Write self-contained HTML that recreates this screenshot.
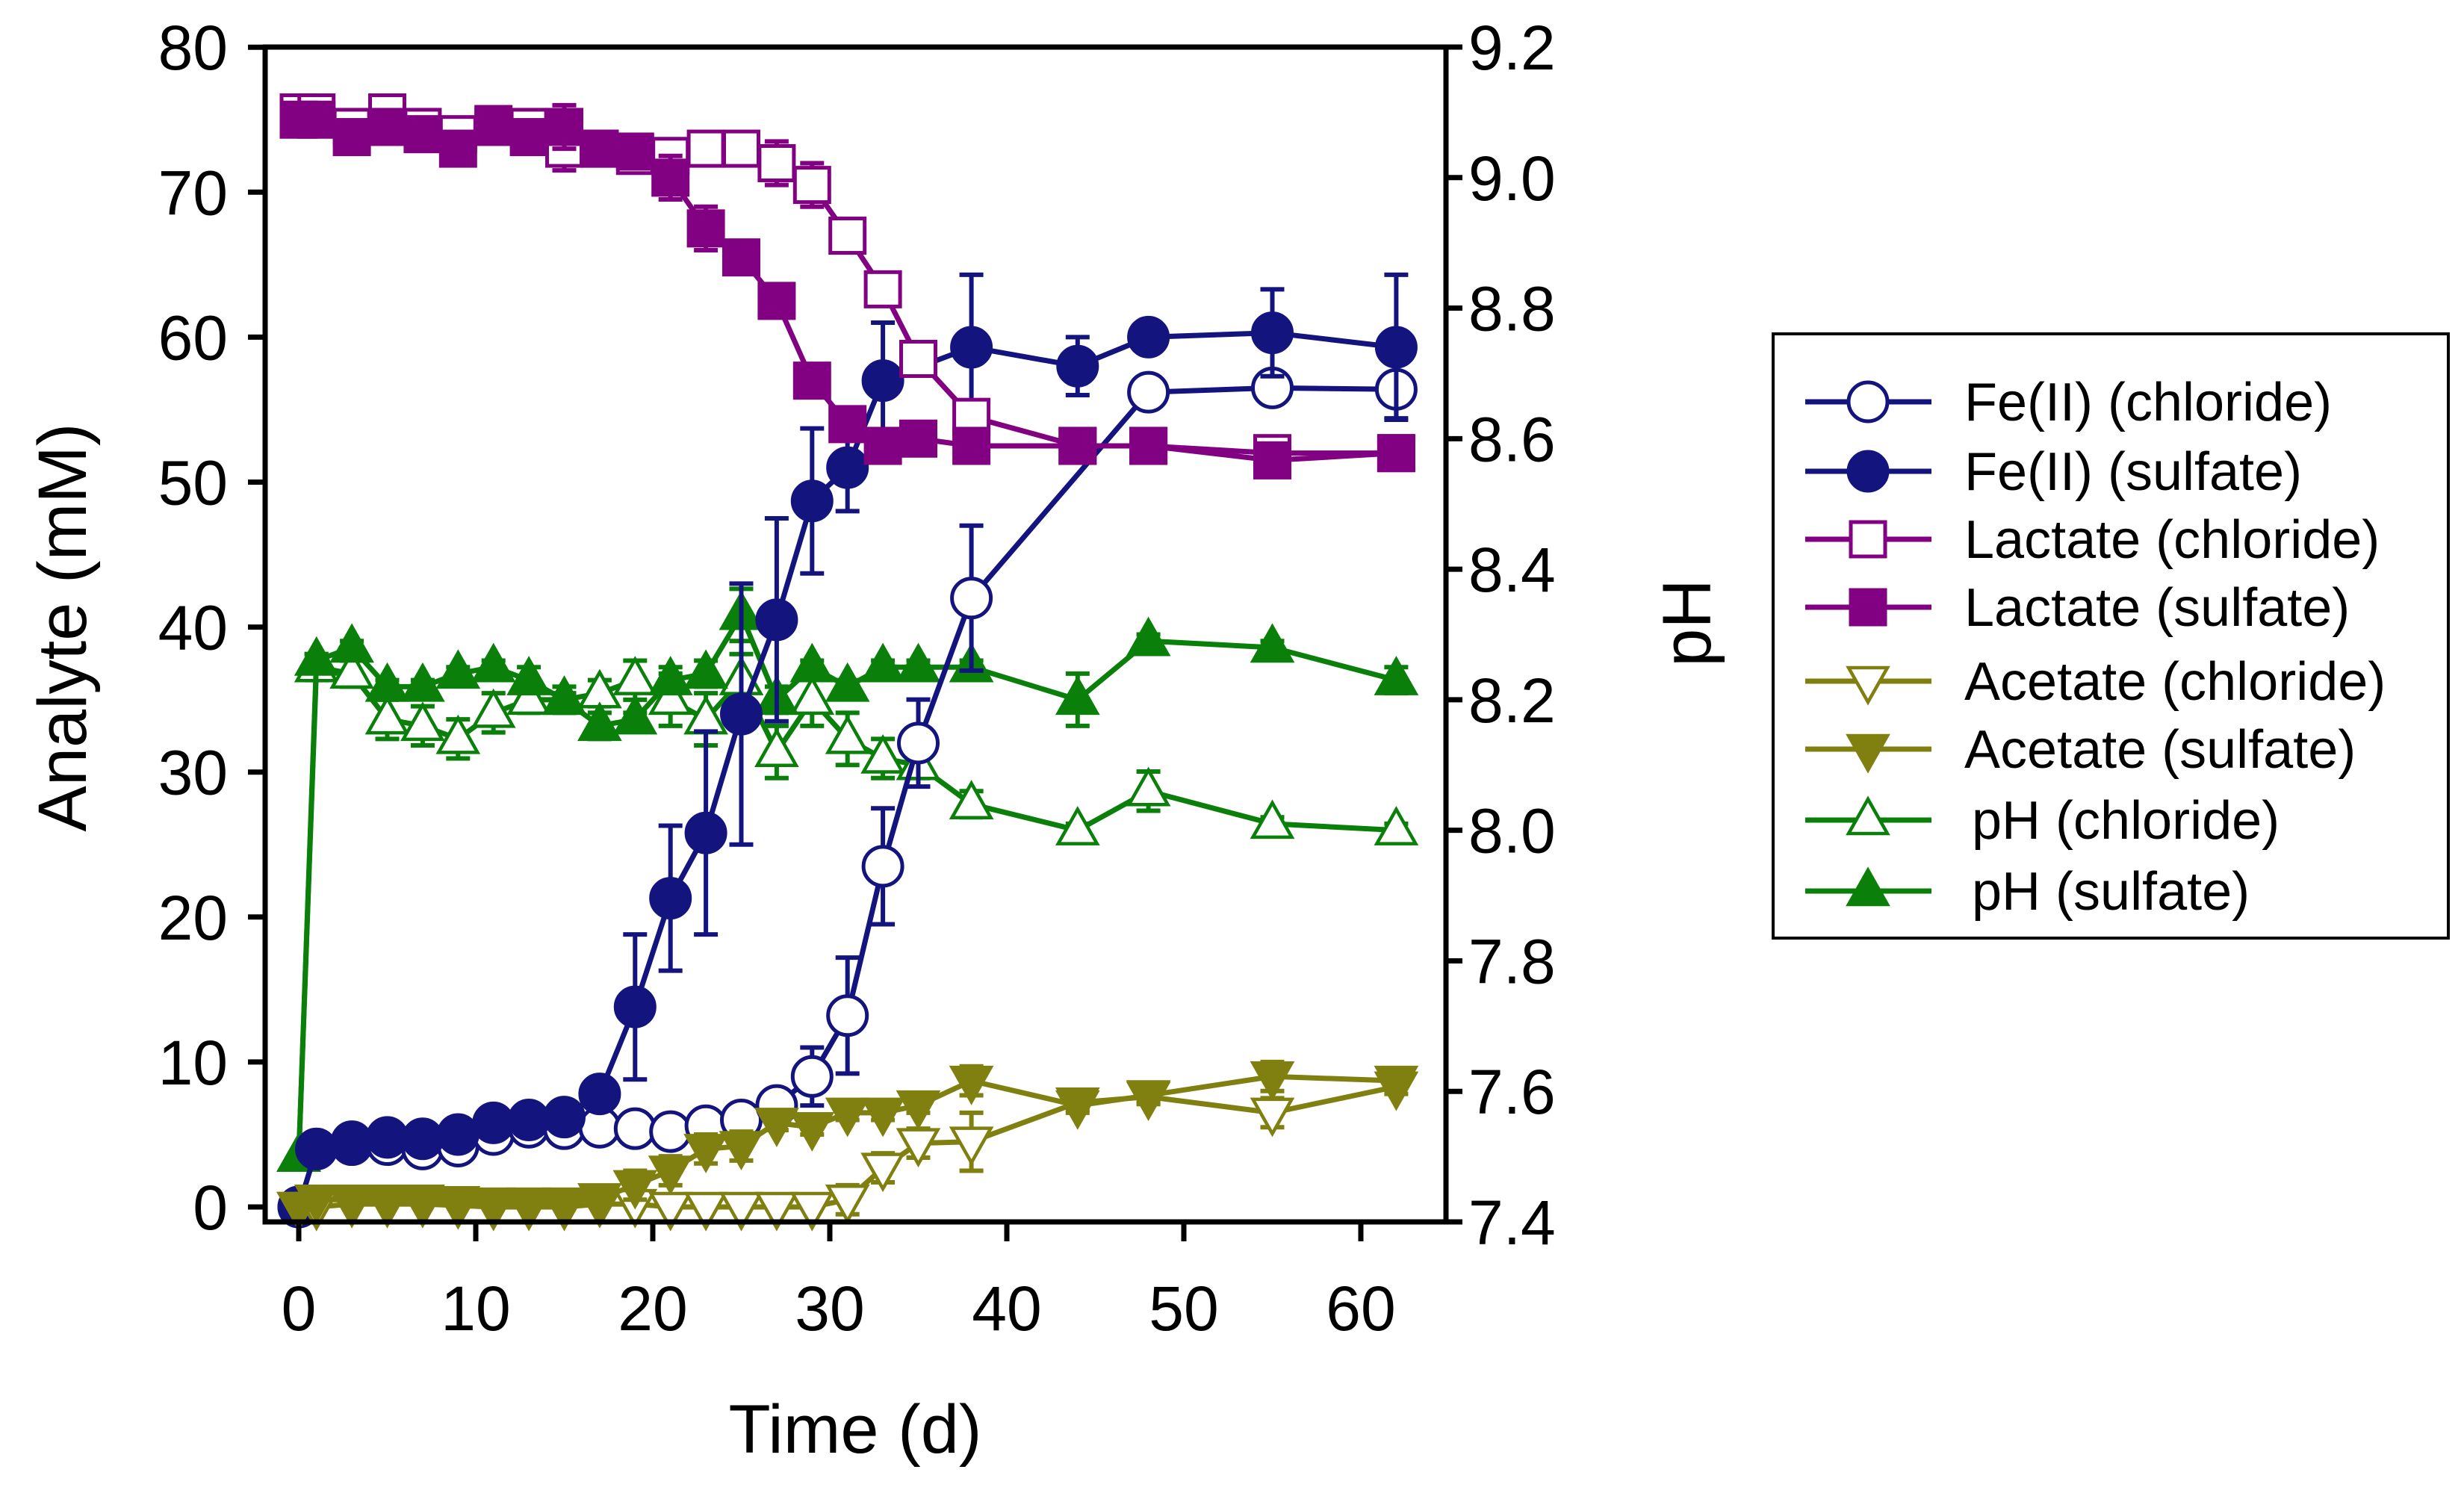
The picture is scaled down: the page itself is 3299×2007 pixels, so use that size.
<!DOCTYPE html>
<html><head><meta charset="utf-8"><style>
html,body{margin:0;padding:0;background:#fff;}
svg{display:block;font-family:"Liberation Sans",sans-serif;}
</style></head><body>
<svg id="chart" width="3299" height="2007" viewBox="0 0 3299 2007" xmlns="http://www.w3.org/2000/svg">
<g id="marks"></g>
<g id="axes"></g>
<g id="legend"></g>
</svg>
<script>
const tS=[0,1,3,5,7,9,11,13,15,17,19,21,23,25,27,29,31,33,35,38,44,48,55,62];
const tFeC=[0,1,3,5,7,9,11,13,15,17,19,21,23,25,27,29,31,33,35,38,48,55,62];
const feChl=[0,4,4.3,4.3,4,4.2,5,5.5,5.4,5.5,5.4,5.2,5.6,6,7,9,13.2,23.5,32,42,56.2,56.5,56.4];
const feChlErr=[0,0,0,0,0,0,0,0,0,0,0,0,0,0,0,2,4,4,3,5,1,1,2];
const tFeS=[0,1,3,5,7,9,11,13,15,17,19,21,23,25,27,29,31,33,38,44,48,55,62];
const feSul=[0,4,4.5,4.8,4.7,5,5.8,6,6.2,7.8,13.8,21.3,25.8,34,40.5,48.7,51,57,59.3,58,60,60.3,59.3];
const feSulErr=[0,0,0,0,0,0,0,0,0,0,5,5,7,9,7,5,3,4,5,2,1,3,5];
const lacChl=[75.5,75.5,74.5,75.5,74.5,74,74.5,74.5,73,73,72.5,72.5,73,73,72,70.5,67,63.3,58.5,54.5,52.5,52.5,52,52];
const lacChlErr=[1,1,1,1,1,1,1,1,1.5,1,1,1,1,1,1.5,1.5,1,1,1,1,1,1,1,1];
const lacSul=[75,75,73.8,74.5,74,73,74.7,73.8,74.5,73,72.8,71,67.5,65.5,62.5,57,54,52.5,53,52.5,52.5,52.5,51.5,52];
const lacSulErr=[1,1,1,1,1,1,1,1,1.5,1,1,1.5,1.5,1,1,1,1,1,1,1,1,1,1,1];
const aceChl=[0,0,0.2,0.2,0.2,0.1,0,0,0,0.2,0.2,0,0,0,0,0,0.5,2.7,4.4,4.5,7.2,7.6,6.5,8.3];
const aceChlErr=[0,0,0,0,0,0,0,0,0,0,0,0,0,0,0,0,1,1,1,2,0.5,0.5,1,0.5];
const aceSul=[0,0.5,0.5,0.5,0.5,0.4,0.3,0.3,0.3,0.6,1.5,2.5,4,4.2,5.8,5.5,6.5,6.5,7,8.7,7,7.7,9,8.7];
const aceSulErr=[0,0,0,0,0,0,0,0,0,0,1,1,1,1,0.5,0.5,0.5,0.5,0.5,1,0.5,0.5,1,0.5];
const phChl=[7.5,8.25,8.24,8.17,8.16,8.14,8.18,8.2,8.2,8.21,8.23,8.2,8.17,8.23,8.12,8.2,8.14,8.11,8.1,8.04,8.0,8.06,8.01,8.0];
const phChlErr=[0,0.02,0.02,0.03,0.03,0.03,0.03,0.02,0.02,0.02,0.03,0.04,0.04,0.04,0.04,0.04,0.04,0.03,0.02,0.02,0.01,0.03,0.01,0.01];
const phSul=[7.5,8.26,8.28,8.22,8.22,8.24,8.25,8.23,8.2,8.16,8.17,8.23,8.24,8.33,8.2,8.25,8.22,8.25,8.25,8.25,8.2,8.29,8.28,8.23];
const phSulErr=[0,0.01,0.01,0.01,0.01,0.01,0.01,0.02,0.01,0.02,0.01,0.02,0.02,0.04,0.02,0.01,0.01,0.01,0.01,0.01,0.04,0.01,0.01,0.02];
const xTicks=[0,10,20,30,40,50,60];
const yTicks=[0,10,20,30,40,50,60,70,80];
const pHTicks=["7.4","7.6","7.8","8.0","8.2","8.4","8.6","8.8","9.0","9.2"];

const NS="http://www.w3.org/2000/svg";
const X=v=>400+v*23.7;
const Y=v=>1616-v*19.41;
const YP=v=>1636-(v-7.4)*(1573/1.8);
const marks=document.getElementById('marks'),axes=document.getElementById('axes'),leg=document.getElementById('legend');
function el(tag,attrs,parent){const e=document.createElementNS(NS,tag);for(const k in attrs)e.setAttribute(k,attrs[k]);parent.appendChild(e);return e;}
function marker(shape,cx,cy,color,filled,parent){
  const fill=filled?color:'#fff';let e;
  if(shape==='circle')e=el('circle',{cx:cx,cy:cy,r:26,fill:fill,stroke:color,'stroke-width':5},parent);
  else if(shape==='square')e=el('rect',{x:cx-23,y:cy-23,width:46,height:46,fill:fill,stroke:color,'stroke-width':5},parent);
  else if(shape==='tri')e=el('polygon',{points:`${cx},${cy-28} ${cx-26},${cy+18} ${cx+26},${cy+18}`,fill:fill,stroke:color,'stroke-width':4.5},parent);
  else e=el('polygon',{points:`${cx},${cy+28} ${cx-26},${cy-18} ${cx+26},${cy-18}`,fill:fill,stroke:color,'stroke-width':4.5},parent);
  return e;
}
function series(name,ts,vals,errs,yf,color,shape,filled){
  const g=el('g',{},marks);
  
  
  const pts=ts.map((t,i)=>X(t)+','+yf(vals[i])).join(' ');
  const line=el('polyline',{points:pts,fill:'none',stroke:color,'stroke-width':7},g);
  
  
  ts.forEach((t,i)=>{
    const e=errs[i];
    if(e>0){const x=X(t),y1=yf(vals[i]+e),y2=yf(vals[i]-e);
      const eb=el('path',{d:`M${x},${y1}V${y2}M${x-16},${y1}H${x+16}M${x-16},${y2}H${x+16}`,stroke:color,'stroke-width':6,fill:'none'},g);
      
      }
  });
  ts.forEach((t,i)=>{
    const m=marker(shape,X(t),yf(vals[i]),color,filled,g);
    
    
  });
}
const NAVY='#14147f',PUR='#820082',OLI='#808010',GRN='#0a800a';
series('ph-chloride',tS,phChl,phChlErr,YP,GRN,'tri',false);
series('ph-sulfate',tS,phSul,phSulErr,YP,GRN,'tri',true);
series('fe-chloride',tFeC,feChl,feChlErr,Y,NAVY,'circle',false);
series('fe-sulfate',tFeS,feSul,feSulErr,Y,NAVY,'circle',true);
series('lactate-chloride',tS,lacChl,lacChlErr,Y,PUR,'square',false);
series('lactate-sulfate',tS,lacSul,lacSulErr,Y,PUR,'square',true);
series('acetate-chloride',tS,aceChl,aceChlErr,Y,OLI,'dtri',false);
series('acetate-sulfate',tS,aceSul,aceSulErr,Y,OLI,'dtri',true);

let f=el('path',{d:'M355,63H1936V1636H355Z',fill:'none',stroke:'#000','stroke-width':7},axes);

yTicks.forEach(v=>{
  el('path',{d:`M332,${Y(v)}H355`,stroke:'#000','stroke-width':7},axes);
  const t=el('text',{x:305,y:Y(v)+30,'font-size':84,'text-anchor':'end'},axes);t.textContent=v;
  
});
xTicks.forEach(v=>{
  el('path',{d:`M${X(v)},1636V1662`,stroke:'#000','stroke-width':7},axes);
  const t=el('text',{x:X(v),y:1781,'font-size':84,'text-anchor':'middle'},axes);t.textContent=v;
  
});
pHTicks.forEach(s=>{
  const y=YP(parseFloat(s));
  el('path',{d:`M1936,${y}H1958`,stroke:'#000','stroke-width':7},axes);
  const t=el('text',{x:1966,y:y+30,'font-size':84},axes);t.textContent=s;
  
});
let t=el('text',{x:1145,y:1945,'font-size':92,'text-anchor':'middle'},axes);t.textContent='Time (d)';

t=el('text',{x:0,y:0,'font-size':92,'text-anchor':'middle',transform:'translate(115,840) rotate(-90)'},axes);t.textContent='Analyte (mM)';

t=el('text',{x:0,y:0,'font-size':92,'text-anchor':'middle',transform:'translate(2290,834) rotate(-90)'},axes);t.textContent='pH';


let b=el('rect',{x:2374,y:447,width:904,height:809,fill:'#fff',stroke:'#000','stroke-width':4},leg);

const legItems=[['Fe(II) (chloride)',NAVY,'circle',false],['Fe(II) (sulfate)',NAVY,'circle',true],['Lactate (chloride)',PUR,'square',false],['Lactate (sulfate)',PUR,'square',true],['Acetate (chloride)',OLI,'dtri',false],['Acetate (sulfate)',OLI,'dtri',true],['pH (chloride)',GRN,'tri',false],['pH (sulfate)',GRN,'tri',true]];
const legY=[538,631,722,813,912,1003,1098,1193];
legItems.forEach((it,i)=>{
  const g=el('g',{},leg);
  
  
  const y=legY[i];
  el('path',{d:`M2417,${y}H2586`,stroke:it[1],'stroke-width':7},g);
  marker(it[2],2501,y,it[1],it[3],g);
  const tx=el('text',{x:i>=6?2640:2630,y:y+25,'font-size':72},g);tx.textContent=it[0];
});
</script>
</body></html>
